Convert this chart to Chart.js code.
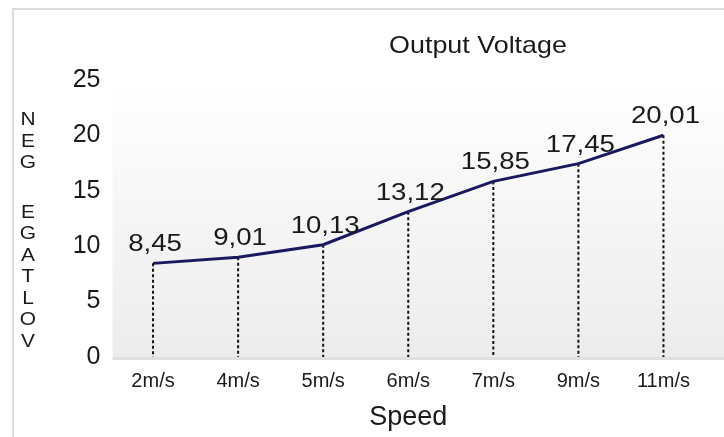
<!DOCTYPE html>
<html>
<head>
<meta charset="utf-8">
<script src="https://cdn.jsdelivr.net/npm/chart.js@4/dist/chart.umd.min.js"></script>
<style>
  html, body { margin: 0; padding: 0; background: #fff; }
  #wrap { width: 724px; height: 437px; }
</style>
</head>
<body>
<div id="wrap"><canvas id="grafik" width="724" height="437"></canvas></div>
<script>
// ===== DATA =====
const kecepatan = ["2m/s", "4m/s", "5m/s", "6m/s", "7m/s", "9m/s", "11m/s"];
const tegangan = [8.45, 9.01, 10.13, 13.12, 15.85, 17.45, 20.01];
const judulChart = "Output Voltage";
const judulSumbuY = "VOLTAGE GEN";   // ditulis terbalik, huruf ditumpuk
const FONT = "'Liberation Sans', Arial, sans-serif";

// tulis teks yang agak melebar (gambar asli sedikit ditarik ke samping)
function tulisLebar(ctx, teks, x, y, sx) {
  ctx.save();
  ctx.translate(x, y);
  ctx.scale(sx, 1);
  ctx.fillText(teks, 0, 0);
  ctx.restore();
}

// ===== PLUGIN: bingkai + latar abu-abu =====
const latarPlugin = {
  id: "latar",
  beforeDraw(chart) {
    const ctx = chart.ctx, a = chart.chartArea;
    ctx.save();
    // bingkai tipis
    ctx.strokeStyle = "#dcdcdc";
    ctx.lineWidth = 2;
    ctx.beginPath();
    ctx.moveTo(13, 437);
    ctx.lineTo(13, 9);
    ctx.lineTo(724, 9);
    ctx.stroke();
    // latar area plot
    const g = ctx.createLinearGradient(0, a.top, 0, a.bottom);
    g.addColorStop(0, "#ffffff");
    g.addColorStop(1, "#ececec");
    ctx.fillStyle = g;
    ctx.fillRect(a.left + 2, a.top, chart.width - a.left - 2, a.bottom - a.top);
    ctx.fillStyle = "#e0e0e0";
    ctx.fillRect(a.left + 2, a.bottom, chart.width - a.left - 2, 3);
    // judul chart
    ctx.fillStyle = "#1a1a1a";
    ctx.font = "24px " + FONT;
    ctx.textAlign = "center";
    ctx.textBaseline = "middle";
    tulisLebar(ctx, judulChart, 478, 46, 1.12);
    ctx.restore();
  }
};

// ===== PLUGIN: garis putus-putus ke sumbu =====
const garisPlugin = {
  id: "garisTurun",
  beforeDatasetsDraw(chart) {
    const ctx = chart.ctx, a = chart.chartArea;
    const pts = chart.getDatasetMeta(0).data;
    ctx.save();
    ctx.strokeStyle = "#111";
    ctx.lineWidth = 2;
    ctx.setLineDash([3, 2.5]);
    pts.forEach(p => {
      ctx.beginPath();
      ctx.moveTo(p.x, p.y);
      ctx.lineTo(p.x, a.bottom);
      ctx.stroke();
    });
    ctx.restore();
  }
};

// ===== PLUGIN: label nilai + judul sumbu Y =====
const labelPlugin = {
  id: "labelNilai",
  afterDatasetsDraw(chart) {
    const ctx = chart.ctx;
    const pts = chart.getDatasetMeta(0).data;
    ctx.save();
    ctx.fillStyle = "#1a1a1a";
    ctx.font = "24px " + FONT;
    ctx.textAlign = "center";
    ctx.textBaseline = "alphabetic";
    pts.forEach((p, i) => {
      const teks = tegangan[i].toFixed(2).replace(".", ",");
      tulisLebar(ctx, teks, p.x + 2, p.y - 12, 1.15);
    });

    // huruf-huruf judul sumbu Y, dibalik dan ditumpuk
    ctx.font = "19px " + FONT;
    ctx.textBaseline = "middle";
    const huruf = judulSumbuY.split("").reverse();
    let y = 120;
    huruf.forEach(h => {
      if (h === " ") { y += 28; return; }
      tulisLebar(ctx, h, 28, y, 1.1);
      y += 21.5;
    });
    ctx.restore();
  }
};

// ===== CHART =====
new Chart(document.getElementById("grafik"), {
  type: "line",
  data: {
    labels: kecepatan,
    datasets: [{
      label: judulChart,
      data: tegangan,
      borderColor: "#1a1960",
      borderWidth: 3,
      pointRadius: 0,
      tension: 0,
      fill: false
    }]
  },
  options: {
    responsive: false,
    animation: false,
    layout: { padding: { left: 0, right: 18, top: 80, bottom: 0 } },
    plugins: {
      legend: { display: false },
      tooltip: { enabled: false },
      title: { display: false }
    },
    scales: {
      x: {
        offset: true,
        grid: { display: false, drawTicks: false },
        border: { display: false },
        ticks: { color: "#1a1a1a", font: { family: FONT, size: 20 }, padding: 12, maxRotation: 0 },
        title: {
          display: true,
          text: "Speed",
          color: "#1a1a1a",
          font: { family: FONT, size: 27 },
          padding: { top: 0, bottom: 3 }
        },
        afterFit(scale) { scale.height = 80; }
      },
      y: {
        min: 0,
        max: 25,
        grid: { display: false, drawTicks: false },
        border: { display: false },
        ticks: { stepSize: 5, color: "#1a1a1a", font: { family: FONT, size: 25 }, padding: 10 },
        afterFit(scale) { scale.width = 110.5; }
      }
    }
  },
  plugins: [latarPlugin, garisPlugin, labelPlugin]
});
</script>
</body>
</html>
